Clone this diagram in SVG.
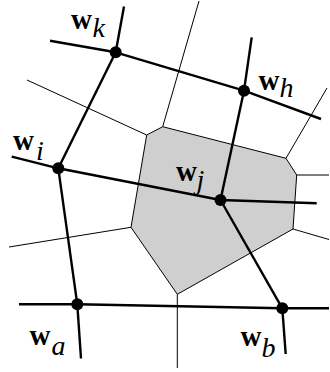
<svg xmlns="http://www.w3.org/2000/svg" width="330" height="372" viewBox="0 0 330 372">
<style>
.cell{fill:#cfcfcf;stroke:#000;stroke-width:1;stroke-linejoin:miter}
.thin{stroke:#000;stroke-width:1;fill:none}
.thick{stroke:#000;stroke-width:2.4;fill:none;stroke-linecap:butt}
.dot{fill:#000}
.w{font-family:"Liberation Serif","Times New Roman",serif;font-weight:bold;font-size:29px}
.s{font-family:"Liberation Serif","Times New Roman",serif;font-style:italic;font-size:28px}
</style>
<rect width="330" height="372" fill="#fff"/>
<g id="voronoi">
<polygon class="cell" points="162.7,126.7 286,158.3 296.7,175 293,229 177.3,294.3 131,227.3 146.7,135"/>
<line class="thin" x1="162.7" y1="126.7" x2="199" y2="1"/>
<line class="thin" x1="146.7" y1="135" x2="27" y2="80"/>
<line class="thin" x1="286" y1="158.3" x2="327" y2="88"/>
<line class="thin" x1="296.7" y1="175" x2="329" y2="175"/>
<line class="thin" x1="293" y1="229" x2="329" y2="239.5"/>
<line class="thin" x1="177.3" y1="294.3" x2="177.3" y2="368"/>
<line class="thin" x1="131" y1="227.3" x2="9" y2="247"/>
</g>
<g id="connectors">
<line class="thick" x1="50" y1="40.7" x2="115.7" y2="52.3"/>
<line class="thick" x1="115.7" y1="52.3" x2="244" y2="90.7"/>
<line class="thick" x1="244" y1="90.7" x2="321" y2="119"/>
<line class="thick" x1="124" y1="6.5" x2="115.7" y2="52.3"/>
<line class="thick" x1="115.7" y1="52.3" x2="58.3" y2="168.3"/>
<line class="thick" x1="58.3" y1="168.3" x2="77.3" y2="304.3"/>
<line class="thick" x1="77.3" y1="304.3" x2="81" y2="358.5"/>
<line class="thick" x1="11.7" y1="156.7" x2="58.3" y2="168.3"/>
<line class="thick" x1="58.3" y1="168.3" x2="220.5" y2="200"/>
<line class="thick" x1="220.5" y1="200" x2="316.7" y2="203.3"/>
<line class="thick" x1="251.7" y1="37.3" x2="244" y2="90.7"/>
<line class="thick" x1="244" y1="90.7" x2="220.5" y2="200"/>
<line class="thick" x1="220.5" y1="200" x2="282.3" y2="308.3"/>
<line class="thick" x1="282.3" y1="308.3" x2="285.7" y2="354"/>
<line class="thick" x1="19" y1="304.3" x2="77.3" y2="304.3"/>
<line class="thick" x1="77.3" y1="304.3" x2="282.3" y2="308.3"/>
<line class="thick" x1="282.3" y1="308.3" x2="329" y2="308.3"/>
</g>
<g id="wk"><circle class="dot" cx="115.7" cy="52.3" r="6"/><text class="w" x="71" y="29">w</text><text class="s" x="92.5" y="37">k</text></g>
<g id="wh"><circle class="dot" cx="244" cy="90.7" r="6"/><text class="w" x="258.5" y="89.5">w</text><text class="s" x="279.5" y="97">h</text></g>
<g id="wi"><circle class="dot" cx="58.3" cy="168.3" r="6"/><text class="w" x="13" y="150">w</text><text class="s" x="36" y="160">i</text></g>
<g id="wj"><circle class="dot" cx="220.5" cy="200" r="6"/><text class="w" x="176" y="181">w</text><text class="s" x="196.5" y="189">j</text></g>
<g id="wa"><circle class="dot" cx="77.3" cy="304.3" r="6"/><text class="w" x="29.5" y="345">w</text><text class="s" x="51.5" y="355">a</text></g>
<g id="wb"><circle class="dot" cx="282.3" cy="308.3" r="6"/><text class="w" x="240.5" y="345.5">w</text><text class="s" x="261.5" y="357">b</text></g>
</svg>
